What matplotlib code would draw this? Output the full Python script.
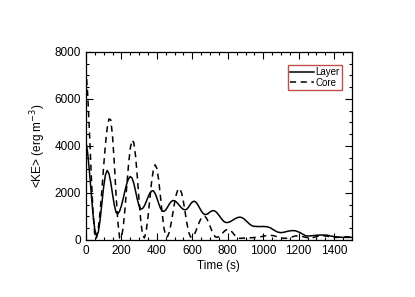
import matplotlib
matplotlib.use("Agg")
import matplotlib.pyplot as plt
from matplotlib.ticker import MultipleLocator

plt.rcParams['font.family'] = ['Liberation Sans', 'DejaVu Sans']

# time samples (s)
t_layer = [0, 10, 20, 30, 40, 50, 60, 70, 80, 90, 100, 110, 120, 130, 140, 150, 160, 170, 180,
           190, 200, 210, 220, 230, 240, 250, 260, 270, 280, 290, 300, 310, 320, 330, 340, 350,
           360, 370, 380, 390, 400, 410, 420, 430, 440, 450, 460, 470, 480, 490, 500, 510, 520,
           530, 540, 550, 560, 570, 580, 590, 600, 610, 620, 630, 640, 650, 660, 670, 680, 690,
           700, 710, 720, 730, 740, 750, 760, 770, 780, 790, 800, 810, 820, 830, 840, 850, 860,
           870, 880, 890, 900, 910, 920, 930, 940, 950, 960, 980, 1000, 1020, 1040, 1060, 1080,
           1100, 1120, 1140, 1160, 1180, 1200, 1220, 1240, 1260, 1280, 1300, 1320, 1340, 1360,
           1380, 1400, 1420, 1440, 1460, 1480, 1500]
ke_layer = [4200, 3700, 2900, 2000, 1100, 450, 150, 340, 850, 1555, 2260, 2770, 2960, 2823, 2455,
            1959, 1491, 1178, 1115, 1225, 1452, 1756, 2086, 2385, 2602, 2697, 2640, 2414, 2078,
            1722, 1442, 1314, 1340, 1455, 1628, 1820, 1985, 2083, 2095, 1985, 1793, 1562, 1357,
            1231, 1216, 1279, 1393, 1523, 1628, 1678, 1666, 1615, 1535, 1443, 1360, 1301, 1280,
            1317, 1412, 1529, 1620, 1650, 1610, 1511, 1379, 1243, 1136, 1083, 1090, 1133, 1191,
            1237, 1250, 1219, 1149, 1053, 947, 849, 777, 742, 745, 768, 806, 852, 900, 939, 964,
            970, 950, 905, 841, 768, 695, 635, 594, 580, 575, 570, 575, 565, 520, 420, 340, 310,
            335, 375, 398, 395, 340, 260, 175, 170, 185, 200, 210, 210, 205, 170, 140, 125, 115,
            110, 110, 110]

t_core = [0, 10, 20, 30, 40, 50, 55, 60, 70, 80, 90, 100, 110, 120, 130, 140, 150, 160, 170, 180,
          190, 200, 210, 220, 230, 240, 250, 260, 270, 280, 290, 300, 310, 320, 330, 340, 350,
          360, 370, 380, 390, 400, 410, 420, 430, 440, 450, 460, 470, 480, 490, 500, 510, 520,
          530, 540, 550, 560, 570, 580, 590, 600, 610, 620, 630, 640, 650, 660, 670, 680, 690,
          700, 710, 720, 730, 740, 750, 760, 770, 780, 790, 800, 810, 820, 830, 840, 850, 860,
          870, 880, 890, 900, 920, 940, 960, 980, 1000, 1020, 1040, 1060, 1080, 1100, 1120,
          1140, 1160, 1180, 1200, 1220, 1240, 1260, 1280, 1300, 1320, 1340, 1360, 1380, 1400,
          1420, 1440, 1460, 1480, 1500]
ke_core = [7300, 6200, 4600, 2800, 1200, 200, 50, 100, 487, 1193, 2120, 3130, 4057, 4764, 5150,
           5112, 4445, 3282, 1918, 785, 88, 85, 520, 1294, 2248, 3180, 3900, 4250, 4148, 3581,
           2679, 1661, 760, 192, 86, 377, 965, 1713, 2440, 2975, 3199, 3052, 2573, 1880, 1135,
           511, 157, 135, 331, 685, 1132, 1583, 1951, 2163, 2183, 1989, 1623, 1155, 689, 319,
           129, 126, 219, 380, 575, 769, 927, 1009, 1009, 927, 772, 585, 391, 231, 131, 112, 143,
           207, 289, 367, 426, 450, 432, 373, 288, 196, 119, 76, 72, 75, 80, 85, 90, 100, 110,
           130, 160, 190, 200, 180, 130, 90, 70, 80, 120, 170, 180, 150, 110, 90, 100, 140, 170,
           180, 160, 130, 110, 110, 130, 140, 130, 120]

fig = plt.figure(figsize=(4.15, 2.97), dpi=100)
ax = fig.add_axes([0.207, 0.192, 0.641, 0.633])

ax.plot(t_layer, ke_layer, color='black', lw=1.1, label='Layer')
ax.plot(t_core, ke_core, color='black', lw=1.1, ls=(0, (4, 3)), label='Core')

ax.set_xlim(0, 1500)
ax.set_ylim(0, 8000)
ax.xaxis.set_major_locator(MultipleLocator(200))
ax.xaxis.set_minor_locator(MultipleLocator(50))
ax.yaxis.set_major_locator(MultipleLocator(2000))
ax.yaxis.set_minor_locator(MultipleLocator(500))
ax.tick_params(which='both', direction='in', top=True, right=True, labelsize=8.5, width=0.8)
ax.tick_params(which='major', length=5)
ax.tick_params(which='minor', length=2.5)
for s in ax.spines.values():
    s.set_linewidth(0.9)

ax.set_xlabel('Time (s)', fontsize=8.5, labelpad=2)
ax.set_ylabel('<KE> (erg m$^{-3}$)', fontsize=8.5, labelpad=5)

leg = ax.legend(loc='upper right', bbox_to_anchor=(0.962, 0.931), borderaxespad=0,
                fontsize=7, frameon=True, fancybox=False,
                handlelength=2.4, handletextpad=0.15, borderpad=0.25, labelspacing=0.05)
leg.get_frame().set_edgecolor('#b22222')
leg.get_frame().set_linewidth(1.0)

fig.savefig('out.png', dpi=100)
